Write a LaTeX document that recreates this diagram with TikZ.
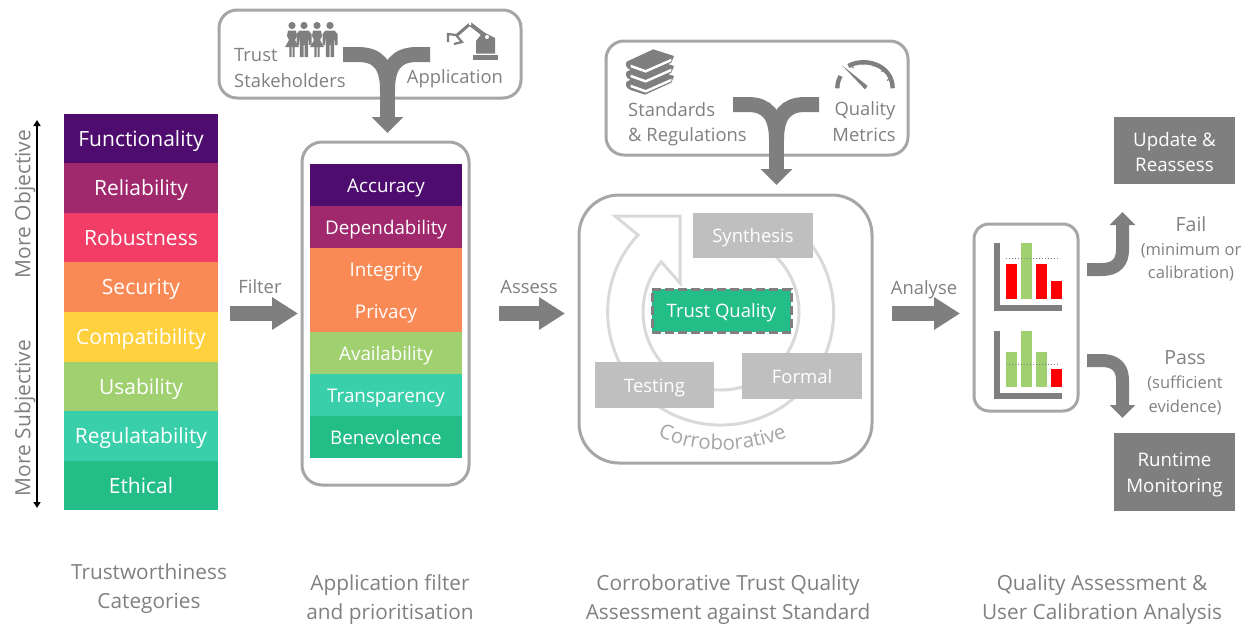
\documentclass[tikz,border=0pt]{standalone}
\usepackage{fontspec}
\setmainfont{Open Sans}
\usetikzlibrary{arrows.meta,decorations.text}
\definecolor{gA}{HTML}{7F7F7F}
\definecolor{gB}{HTML}{A6A6A6}
\definecolor{gC}{HTML}{BFBFBF}
\definecolor{gD}{HTML}{D9D9D9}
\definecolor{tx}{HTML}{808080}
\definecolor{cFun}{HTML}{4E0D6E}
\definecolor{cRel}{HTML}{A0286D}
\definecolor{cRob}{HTML}{F23E66}
\definecolor{cSec}{HTML}{FA8A55}
\definecolor{cCom}{HTML}{FFD13F}
\definecolor{cUsa}{HTML}{A0D070}
\definecolor{cReg}{HTML}{39CFAB}
\definecolor{cEth}{HTML}{23BD87}
\newcommand{\fsz}[1]{\fontsize{#1}{#1}\selectfont}
\tikzset{
  catbox/.style={minimum width=154pt,minimum height=49.6pt,inner sep=0pt,outer sep=0pt,text=white,font=\fsz{21},text height=19pt,text depth=4pt},
  appbox/.style={minimum width=152pt,minimum height=42pt,inner sep=0pt,outer sep=0pt,text=white,font=\fsz{18.8},text height=19.5pt,text depth=4pt},
  frame/.style={draw=gB,line width=3pt,rounded corners=#1,fill=none},
  label/.style={text=tx,inner sep=0pt,font=\fsz{18.4},align=center},
  side/.style={text=tx,inner sep=0pt,font=\fsz{21},align=center},
  small/.style={text=tx,inner sep=0pt,font=\fsz{16.5},align=center},
  caption/.style={text=tx,inner sep=0pt,font=\fsz{20.8},align=center,text height=21pt,text depth=4pt},
  method/.style={fill=gC,text=white,inner sep=0pt,font=\fsz{18.5},text height=18pt,text depth=4pt},
  outcome/.style={fill=gA,text=white,inner sep=0pt,font=\fsz{18.7},align=center},
  blk/.style={draw=gA,line width=15pt},
  blktip/.style={-{Triangle[width=31pt,length=26pt]}},
  blktipS/.style={-{Triangle[width=25pt,length=13pt]}},
  blktipV/.style={-{Triangle[width=31pt,length=16pt]}},
  ic/.style={fill=gA,draw=none}
}
\begin{document}
\begin{tikzpicture}[x=1pt,y=-1pt]
\useasboundingbox (0,0) rectangle (1255,632);
% category stack
\node[catbox,fill=cFun] (fun) at (141,138.5) {Functionality};
\node[catbox,fill=cRel] (rel) at (141,188) {Reliability};
\node[catbox,fill=cRob] (rob) at (141,237.5) {Robustness};
\node[catbox,fill=cSec] (sec) at (141,287) {Security};
\node[catbox,fill=cCom] (com) at (141,337) {Compatibility};
\node[catbox,fill=cUsa] (usa) at (141,386.5) {Usability};
\node[catbox,fill=cReg] (reg) at (141,436) {Regulatability};
\node[catbox,fill=cEth] (eth) at (141,485.5) {Ethical};
% side arrow
\coordinate (sideT) at (37,120);
\coordinate (sideB) at (37,508);
\draw[black,line width=1.8pt,{Triangle[width=7pt,length=6pt]}-{Triangle[width=7pt,length=6pt]}] (sideT) -- (sideB);
\node[side,rotate=90] (obj) at (25,204) {More Objective};
\node[side,rotate=90] (subj) at (25,418) {More Subjective};
% application stack
\node[frame=20pt,minimum width=167pt,minimum height=343pt] (appframe) at (385.5,313.5) {};
\node[appbox,fill=cFun] (acc) at (386,185) {Accuracy};
\node[appbox,fill=cRel] (dep) at (386,227) {Dependability};
\node[appbox,fill=cSec] (int) at (386,269) {Integrity};
\node[appbox,fill=cSec] (pri) at (386,311) {Privacy};
\node[appbox,fill=cUsa] (ava) at (386,353) {Availability};
\node[appbox,fill=cReg] (tra) at (386,395) {Transparency};
\node[appbox,fill=cEth] (ben) at (386,437) {Benevolence};
% top box 1
\node[frame=18pt,minimum width=302pt,minimum height=88pt] (top1) at (370,54) {};
\node[label,anchor=west] (trust) at (234,55) {Trust};
\node[label,anchor=west] (stake) at (234,81) {Stakeholders};
\node[label] (appl) at (455,79) {Application};
\coordinate (t1l) at (343,54.5);
\coordinate (t1r) at (430,54.5);
\coordinate (t1m) at (387.5,90);
\coordinate (t1b) at (387.5,133);
\draw[blk] (t1l) -- (358,54.5) .. controls (378,54.5) and (387.5,65) .. (t1m);
\draw[blk] (t1r) -- (417,54.5) .. controls (397,54.5) and (387.5,65) .. (t1m);
\draw[blk,blktipV] (t1m) -- (t1b);
% people
\foreach \cx/\kind in {292/0,304/1,317/0,330/1}{
  \fill[gA] (\cx,25.5) circle (3.6);
  \ifnum\kind=0
    \fill[gA] (\cx-4,30.5) -- (\cx+4,30.5) -- (\cx+5,36) -- (\cx+3,40) -- (\cx+7,47) -- (\cx+2.6,47) -- (\cx+2.6,57) -- (\cx+.5,57) -- (\cx+.5,47) -- (\cx-.5,47) -- (\cx-.5,57) -- (\cx-2.6,57) -- (\cx-2.6,47) -- (\cx-7,47) -- (\cx-3,40) -- (\cx-5,36) -- cycle;
  \else
    \fill[gA] (\cx-4.5,30.5) -- (\cx+4.5,30.5) -- (\cx+7.5,34) -- (\cx+7.5,45) -- (\cx+5,45) -- (\cx+4.3,36) -- (\cx+4,57) -- (\cx+.5,57) -- (\cx+.5,45) -- (\cx-.5,45) -- (\cx-.5,57) -- (\cx-4,57) -- (\cx-4.3,36) -- (\cx-5,45) -- (\cx-7.5,45) -- (\cx-7.5,34) -- cycle;
  \fi
}
% robot
\fill[gA] (473,55) rectangle (498,60);
\fill[gA] (476,53.5) -- (476,41) -- (483,32) -- (495,38) -- (495,53.5) -- cycle;
\draw[gA,line width=4pt] (470,24) -- (487,37);
\draw[gA,line width=3pt] (470,24) -- (456,36);
\fill[white] (487,37) circle (2);
\fill[white] (470,24) circle (1.5);
\draw[gA,line width=2.2pt] (448,42) -- (448,34) -- (456,35) -- (462,42) -- (454,44);
% top box 2
\node[frame=18pt,minimum width=302pt,minimum height=114pt] (top2) at (757,98) {};
\node[label,anchor=west] (std) at (628,110) {Standards};
\node[label,anchor=west] (regl) at (628,137) {\& Regulations};
\node[label] (qual) at (865,111) {Quality};
\node[label] (metr) at (864,135) {Metrics};
\coordinate (t2l) at (733,104.5);
\coordinate (t2r) at (819,104.5);
\coordinate (t2m) at (776.5,140);
\coordinate (t2b) at (776.5,185);
\draw[blk] (t2l) -- (748,104.5) .. controls (767,104.5) and (776.5,115) .. (t2m);
\draw[blk] (t2r) -- (805,104.5) .. controls (786,104.5) and (776.5,115) .. (t2m);
\draw[blk,blktipV] (t2m) -- (t2b);
% books
\begin{scope}[shift={(600,30)},x=.3333pt,y=-.3333pt]
\foreach \o in {60,30,0}{
  \begin{scope}[yshift=-\o*.3333pt]
  \fill[gA] (80,95) -- (160,58) -- (222,78) -- (214,98) -- (135,134) -- (92,120) .. controls (76,115) and (76,100) .. (80,95) -- cycle;
  \fill[white] (92,104) -- (137,120) -- (214,86) -- (214,94) -- (137,128) -- (92,112) -- cycle;
  \end{scope}
}
\end{scope}
% gauge
\begin{scope}[shift={(600,30)},x=.3333pt,y=-.3333pt]
\draw[gA,line width=4.4pt] (712,175) .. controls (712,160) and (716,148) .. (722,138);
\draw[gA,line width=4.4pt] (745,108) .. controls (795,80) and (878,105) .. (878,175);
\fill[gA] (725,105) -- (803,168) -- (795,178) -- cycle;
\foreach \a in {20,45,70,95,120}{
  \draw[gA,line width=1.2pt] ({795+70*cos(\a)},{175-70*sin(\a)}) -- ({795+78*cos(\a)},{175-78*sin(\a)});
}
\end{scope}
% corroborative frame
\node[frame=40pt,minimum width=293pt,minimum height=268pt] (corr) at (725.5,329) {};
% circular arrow
\coordinate (c0) at (721,312);
\draw[gD,line width=3pt,line join=miter]
  (638,235) arc[start angle=-137,end angle=-400,radius=113]
  -- ({721+78*cos(410)},{312-78*sin(410)}) arc[start angle=-410,end angle=-140,radius=78]
  -- (680,283) -- (680,216) -- (615,216) -- cycle;
\node[method,minimum width=120pt,minimum height=45pt] (syn) at (753,235.5) {Synthesis};
\node[method,minimum width=119pt,minimum height=46pt] (tes) at (654.5,385) {Testing};
\node[method,minimum width=120pt,minimum height=46pt] (for) at (802,376) {Formal};
\node[fill=cEth,draw=gA,line width=3pt,dash pattern=on 9pt off 4pt,text=white,inner sep=0pt,font=\fsz{18.5},minimum width=139pt,minimum height=43pt,text height=18pt,text depth=4pt] (tq) at (721.5,310.5) {Trust Quality};
\path[postaction={decorate,decoration={text along path,text align=center,text={|\fsz{20.5}\color{gB}|Corroborative}}}] (648,432) .. controls (690,455) and (750,457) .. (797,432);
% results
\node[frame=15pt,minimum width=104pt,minimum height=187pt] (res) at (1026,317.5) {};
\fill[gA] (994,243) rectangle (1000,311);
\fill[gA] (994,305) rectangle (1062,311);
\fill[red] (1006,264) rectangle (1017,299);
\fill[cUsa] (1021,243) rectangle (1032,299);
\fill[red] (1036,264) rectangle (1047,299);
\fill[red] (1051,281) rectangle (1062,299);
\draw[gA,line width=1pt,dotted] (1006,258.5) -- (1060,258.5);
\fill[gA] (994,331) rectangle (1000,399);
\fill[gA] (994,393) rectangle (1062,399);
\fill[cUsa] (1006,352) rectangle (1017,387);
\fill[cUsa] (1021,331) rectangle (1032,387);
\fill[cUsa] (1036,352) rectangle (1047,387);
\fill[red] (1051,369) rectangle (1062,387);
\draw[gA,line width=1pt,dotted] (1006,364.5) -- (1060,364.5);
% flow arrows
\coordinate (f1) at (230,313.5); \coordinate (f2) at (298,313.5);
\coordinate (a1) at (499,313.5); \coordinate (a2) at (565,313.5);
\coordinate (n1) at (892,313.5); \coordinate (n2) at (960,313.5);
\draw[blk,blktip] (f1) -- (f2);
\draw[blk,blktip] (a1) -- (a2);
\draw[blk,blktip] (n1) -- (n2);
\node[label] (filt) at (260,287) {Filter};
\node[label] (ass) at (529,287) {Assess};
\node[label] (ana) at (924,290) {Analyse};
% outcomes
\coordinate (fs) at (1087,269.5); \coordinate (fe) at (1122.5,212);
\coordinate (ps) at (1087,360.5); \coordinate (pe) at (1122.5,418);
\draw[gA,line width=13pt,blktipS] (fs) -- (1102,269.5) .. controls (1116,269.5) and (1122.5,262) .. (1122.5,250) -- (fe);
\draw[gA,line width=13pt,blktipS] (ps) -- (1102,360.5) .. controls (1116,360.5) and (1122.5,368) .. (1122.5,380) -- (pe);
\node[label,font=\fsz{19.5}] (fail) at (1191,224) {Fail};
\node[small] (min) at (1191,251) {(minimum or};
\node[small] (cal) at (1191,274) {calibration)};
\node[label,font=\fsz{19.5}] (pass) at (1185,358) {Pass};
\node[small] (suf) at (1185,383) {(sufficient};
\node[small] (evi) at (1185,408) {evidence)};
\node[outcome,minimum width=121pt,minimum height=67pt] (upd) at (1174.5,150.5) {\rule{0pt}{17pt}Update \&\\[7pt]Reassess};
\node[outcome,minimum width=121pt,minimum height=78pt] (run) at (1174.5,472) {\rule{0pt}{20pt}Runtime\\[7pt]Monitoring};
% captions
\node[caption] (c1a) at (149,571) {Trustworthiness};
\node[caption] (c1b) at (149,600) {Categories};
\node[caption] (c2a) at (390,582) {Application filter};
\node[caption] (c2b) at (390,611) {and prioritisation};
\node[caption] (c3a) at (728,582) {Corroborative Trust Quality};
\node[caption] (c3b) at (728,611) {Assessment against Standard};
\node[caption] (c4a) at (1102,582) {Quality Assessment \&};
\node[caption] (c4b) at (1102,611) {User Calibration Analysis};
\end{tikzpicture}
\end{document}
